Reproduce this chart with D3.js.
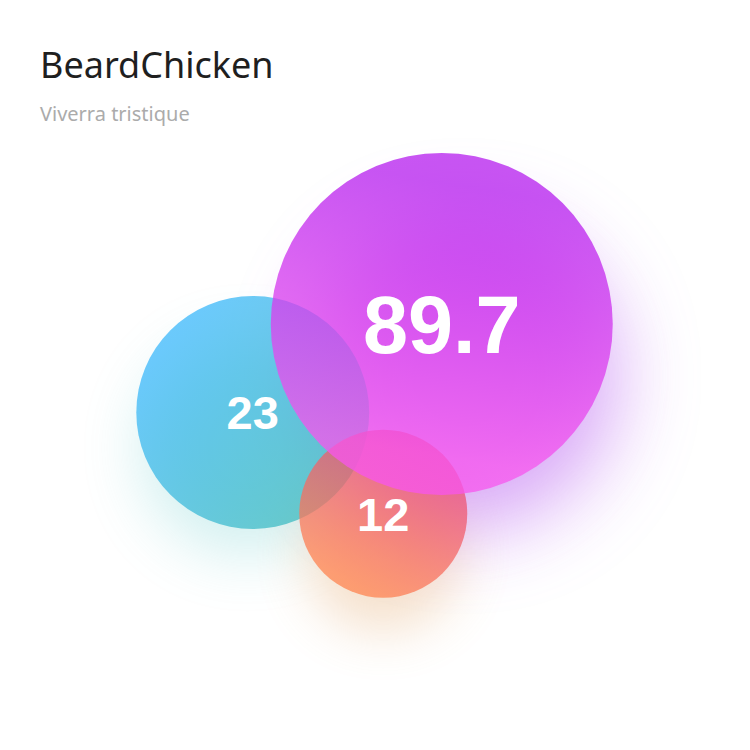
<!DOCTYPE html>
<html>
<head>
<meta charset="utf-8">
<script src="https://cdn.jsdelivr.net/npm/d3@7"></script>
<style>
  html, body { margin: 0; padding: 0; background: #ffffff; }
  svg { display: block; }
</style>
</head>
<body>
<script>
// ---- data ----
const titleText = "BeardChicken";
const subtitleText = "Viverra tristique";
const labels = ["23", "12", "89.7"];
const values = [23, 12, 89.7];
const xValues = [33.7, 51.1, 58.9];   // bubble position in chart units (0-100)
const yValues = [55.0, 68.5, 43.2];
const gradientStops = [
  ["#3bb8fb", "#3fbcbc"],
  ["#ea4a7a", "#ff8450"],
  ["#b51cee", "#f855ee"]
];
const shadowColors = ["#5cc8c8", "#e0a060", "#b860f0"];

// ---- chart ----
const W = 750, H = 750;
const svg = d3.select("body").append("svg").attr("width", W).attr("height", H);

const x = d3.scaleLinear().domain([0, 100]).range([0, W]);
const y = d3.scaleLinear().domain([0, 100]).range([0, H]);
const r = d3.scalePow().exponent(-0.22).domain(d3.extent(values)).range([84, 171]);
const fontSize = d3.scaleLinear().domain([23, 89.7]).range([47, 81]).clamp(true);

const data = values.map((v, i) => ({ v, label: labels[i], x: xValues[i], y: yValues[i], i }));

const defs = svg.append("defs");
const gradDirs = [
  { x1: 0.1, y1: 0.25, x2: 0.85, y2: 0.9 },
  { x1: 0.8, y1: 0.15, x2: 0.35, y2: 0.95 },
  { x1: 0.58, y1: 0.1, x2: 0.45, y2: 0.88 }
];
data.forEach(d => {
  const g = defs.append("linearGradient").attr("id", "grad" + d.i)
    .attr("x1", gradDirs[d.i].x1).attr("y1", gradDirs[d.i].y1)
    .attr("x2", gradDirs[d.i].x2).attr("y2", gradDirs[d.i].y2);
  g.append("stop").attr("offset", 0).attr("stop-color", gradientStops[d.i][0]);
  g.append("stop").attr("offset", 1).attr("stop-color", gradientStops[d.i][1]);
});
const blurs = [30, 26, 40];
data.forEach(d => {
  defs.append("filter").attr("id", "blur" + d.i)
    .attr("x", "-100%").attr("y", "-100%").attr("width", "300%").attr("height", "300%")
    .append("feGaussianBlur").attr("stdDeviation", blurs[d.i]);
});

// shadows
const shadowOffsets = [[-5, 35], [0, 40], [22, 52]];
const shadowOpacity = [0.28, 0.32, 0.55];
const shadowScale = [0.92, 0.92, 0.9];
svg.append("g").selectAll("circle").data(data).join("circle")
  .attr("cx", d => x(d.x) + shadowOffsets[d.i][0])
  .attr("cy", d => y(d.y) + shadowOffsets[d.i][1])
  .attr("r", d => r(d.v) * shadowScale[d.i])
  .attr("fill", d => shadowColors[d.i])
  .attr("opacity", d => shadowOpacity[d.i])
  .attr("filter", d => `url(#blur${d.i})`);

// bubbles
svg.append("g").selectAll("circle").data(data).join("circle")
  .attr("cx", d => x(d.x))
  .attr("cy", d => y(d.y))
  .attr("r", d => r(d.v))
  .attr("fill", d => `url(#grad${d.i})`)
  .attr("fill-opacity", 0.75);

// labels
svg.append("g").selectAll("text").data(data).join("text")
  .attr("x", d => x(d.x))
  .attr("y", d => y(d.y) + fontSize(d.v) * 0.358)
  .attr("text-anchor", "middle")
  .attr("font-family", "'Liberation Sans', Arial, sans-serif")
  .attr("font-weight", "bold")
  .attr("font-size", d => fontSize(d.v))
  .attr("fill", "#ffffff")
  .text(d => d.label);

// title
svg.append("text").attr("x", 40).attr("y", 78)
  .attr("font-family", "'Noto Sans', sans-serif")
  .attr("font-size", 36).attr("fill", "#1f1f1f")
  .text(titleText);
svg.append("text").attr("x", 40).attr("y", 121)
  .attr("font-family", "'Noto Sans', sans-serif")
  .attr("font-size", 20).attr("fill", "#ababab")
  .text(subtitleText);
</script>
</body>
</html>
